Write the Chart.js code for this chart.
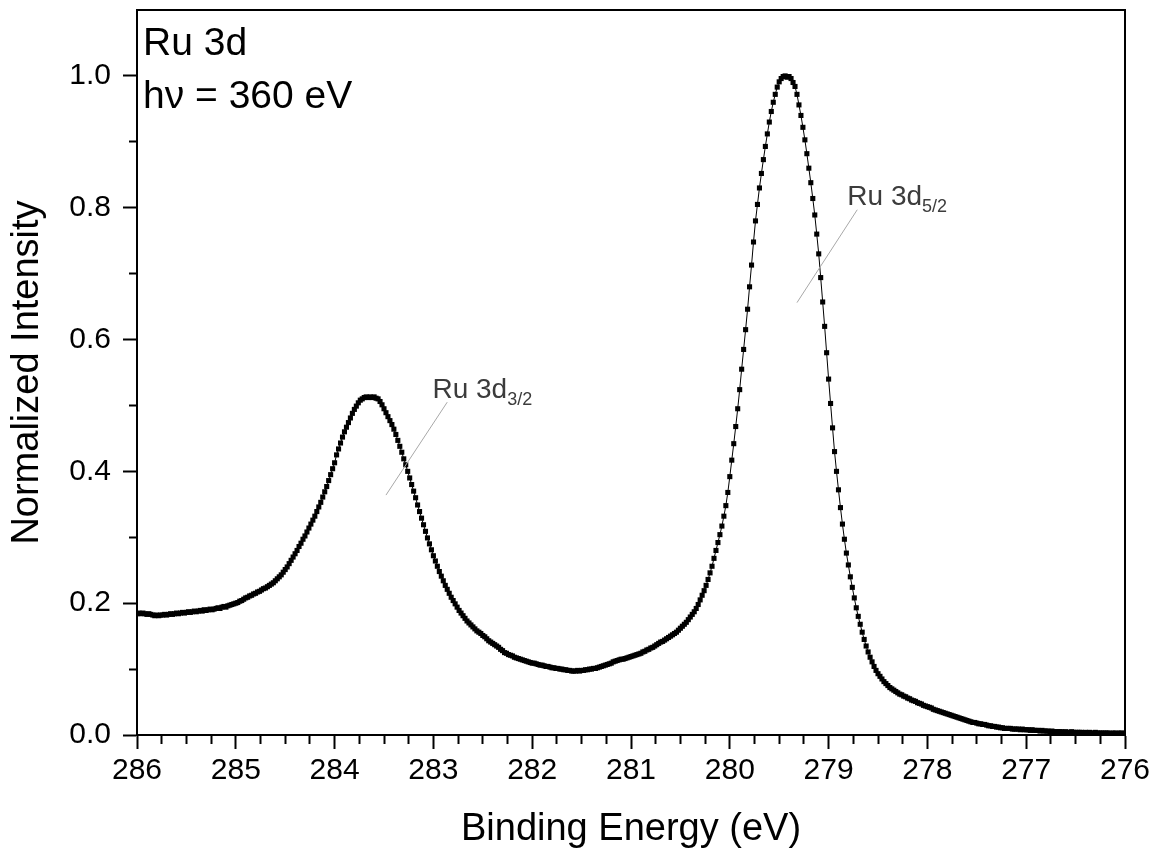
<!DOCTYPE html>
<html>
<head>
<meta charset="utf-8">
<script src="https://cdn.jsdelivr.net/npm/chart.js@4.4.0/dist/chart.umd.min.js"></script>
<style>
  html, body { margin: 0; padding: 0; background: #fff; }
  #wrap { width: 1158px; height: 855px; }
</style>
</head>
<body>
<div id="wrap"><canvas id="chart"></canvas></div>
<script>
'use strict'
const FONT = '"Liberation Sans", Arial, sans-serif'

// binding energy (eV), 0.02 eV steps, rows of 10
const energy = [
  286.00, 285.98, 285.96, 285.94, 285.92, 285.90, 285.88, 285.86, 285.84, 285.82,
  285.80, 285.78, 285.76, 285.74, 285.72, 285.70, 285.68, 285.66, 285.64, 285.62,
  285.60, 285.58, 285.56, 285.54, 285.52, 285.50, 285.48, 285.46, 285.44, 285.42,
  285.40, 285.38, 285.36, 285.34, 285.32, 285.30, 285.28, 285.26, 285.24, 285.22,
  285.20, 285.18, 285.16, 285.14, 285.12, 285.10, 285.08, 285.06, 285.04, 285.02,
  285.00, 284.98, 284.96, 284.94, 284.92, 284.90, 284.88, 284.86, 284.84, 284.82,
  284.80, 284.78, 284.76, 284.74, 284.72, 284.70, 284.68, 284.66, 284.64, 284.62,
  284.60, 284.58, 284.56, 284.54, 284.52, 284.50, 284.48, 284.46, 284.44, 284.42,
  284.40, 284.38, 284.36, 284.34, 284.32, 284.30, 284.28, 284.26, 284.24, 284.22,
  284.20, 284.18, 284.16, 284.14, 284.12, 284.10, 284.08, 284.06, 284.04, 284.02,
  284.00, 283.98, 283.96, 283.94, 283.92, 283.90, 283.88, 283.86, 283.84, 283.82,
  283.80, 283.78, 283.76, 283.74, 283.72, 283.70, 283.68, 283.66, 283.64, 283.62,
  283.60, 283.58, 283.56, 283.54, 283.52, 283.50, 283.48, 283.46, 283.44, 283.42,
  283.40, 283.38, 283.36, 283.34, 283.32, 283.30, 283.28, 283.26, 283.24, 283.22,
  283.20, 283.18, 283.16, 283.14, 283.12, 283.10, 283.08, 283.06, 283.04, 283.02,
  283.00, 282.98, 282.96, 282.94, 282.92, 282.90, 282.88, 282.86, 282.84, 282.82,
  282.80, 282.78, 282.76, 282.74, 282.72, 282.70, 282.68, 282.66, 282.64, 282.62,
  282.60, 282.58, 282.56, 282.54, 282.52, 282.50, 282.48, 282.46, 282.44, 282.42,
  282.40, 282.38, 282.36, 282.34, 282.32, 282.30, 282.28, 282.26, 282.24, 282.22,
  282.20, 282.18, 282.16, 282.14, 282.12, 282.10, 282.08, 282.06, 282.04, 282.02,
  282.00, 281.98, 281.96, 281.94, 281.92, 281.90, 281.88, 281.86, 281.84, 281.82,
  281.80, 281.78, 281.76, 281.74, 281.72, 281.70, 281.68, 281.66, 281.64, 281.62,
  281.60, 281.58, 281.56, 281.54, 281.52, 281.50, 281.48, 281.46, 281.44, 281.42,
  281.40, 281.38, 281.36, 281.34, 281.32, 281.30, 281.28, 281.26, 281.24, 281.22,
  281.20, 281.18, 281.16, 281.14, 281.12, 281.10, 281.08, 281.06, 281.04, 281.02,
  281.00, 280.98, 280.96, 280.94, 280.92, 280.90, 280.88, 280.86, 280.84, 280.82,
  280.80, 280.78, 280.76, 280.74, 280.72, 280.70, 280.68, 280.66, 280.64, 280.62,
  280.60, 280.58, 280.56, 280.54, 280.52, 280.50, 280.48, 280.46, 280.44, 280.42,
  280.40, 280.38, 280.36, 280.34, 280.32, 280.30, 280.28, 280.26, 280.24, 280.22,
  280.20, 280.18, 280.16, 280.14, 280.12, 280.10, 280.08, 280.06, 280.04, 280.02,
  280.00, 279.98, 279.96, 279.94, 279.92, 279.90, 279.88, 279.86, 279.84, 279.82,
  279.80, 279.78, 279.76, 279.74, 279.72, 279.70, 279.68, 279.66, 279.64, 279.62,
  279.60, 279.58, 279.56, 279.54, 279.52, 279.50, 279.48, 279.46, 279.44, 279.42,
  279.40, 279.38, 279.36, 279.34, 279.32, 279.30, 279.28, 279.26, 279.24, 279.22,
  279.20, 279.18, 279.16, 279.14, 279.12, 279.10, 279.08, 279.06, 279.04, 279.02,
  279.00, 278.98, 278.96, 278.94, 278.92, 278.90, 278.88, 278.86, 278.84, 278.82,
  278.80, 278.78, 278.76, 278.74, 278.72, 278.70, 278.68, 278.66, 278.64, 278.62,
  278.60, 278.58, 278.56, 278.54, 278.52, 278.50, 278.48, 278.46, 278.44, 278.42,
  278.40, 278.38, 278.36, 278.34, 278.32, 278.30, 278.28, 278.26, 278.24, 278.22,
  278.20, 278.18, 278.16, 278.14, 278.12, 278.10, 278.08, 278.06, 278.04, 278.02,
  278.00, 277.98, 277.96, 277.94, 277.92, 277.90, 277.88, 277.86, 277.84, 277.82,
  277.80, 277.78, 277.76, 277.74, 277.72, 277.70, 277.68, 277.66, 277.64, 277.62,
  277.60, 277.58, 277.56, 277.54, 277.52, 277.50, 277.48, 277.46, 277.44, 277.42,
  277.40, 277.38, 277.36, 277.34, 277.32, 277.30, 277.28, 277.26, 277.24, 277.22,
  277.20, 277.18, 277.16, 277.14, 277.12, 277.10, 277.08, 277.06, 277.04, 277.02,
  277.00, 276.98, 276.96, 276.94, 276.92, 276.90, 276.88, 276.86, 276.84, 276.82,
  276.80, 276.78, 276.76, 276.74, 276.72, 276.70, 276.68, 276.66, 276.64, 276.62,
  276.60, 276.58, 276.56, 276.54, 276.52, 276.50, 276.48, 276.46, 276.44, 276.42,
  276.40, 276.38, 276.36, 276.34, 276.32, 276.30, 276.28, 276.26, 276.24, 276.22,
  276.20, 276.18, 276.16, 276.14, 276.12, 276.10, 276.08, 276.06, 276.04, 276.02,
  276.00,
]

// normalized intensity, same rows as energy
const intensity = [
  0.184, 0.185, 0.184, 0.185, 0.184, 0.183, 0.184, 0.183, 0.182, 0.181,
  0.182, 0.181, 0.182, 0.182, 0.183, 0.182, 0.183, 0.184, 0.183, 0.184,
  0.185, 0.184, 0.185, 0.186, 0.185, 0.186, 0.187, 0.186, 0.187, 0.188,
  0.187, 0.188, 0.189, 0.188, 0.190, 0.189, 0.190, 0.191, 0.190, 0.191,
  0.192, 0.193, 0.192, 0.194, 0.195, 0.194, 0.196, 0.197, 0.198, 0.199,
  0.200, 0.201, 0.203, 0.204, 0.206, 0.208, 0.209, 0.211, 0.212, 0.214,
  0.215, 0.217, 0.218, 0.220, 0.222, 0.223, 0.225, 0.227, 0.229, 0.231,
  0.234, 0.237, 0.240, 0.243, 0.247, 0.251, 0.255, 0.260, 0.265, 0.270,
  0.275, 0.280, 0.286, 0.291, 0.297, 0.302, 0.308, 0.314, 0.320, 0.326,
  0.332, 0.339, 0.346, 0.353, 0.361, 0.369, 0.377, 0.386, 0.395, 0.404,
  0.413, 0.425, 0.434, 0.443, 0.452, 0.460, 0.467, 0.474, 0.481, 0.488,
  0.494, 0.499, 0.504, 0.508, 0.510, 0.512, 0.513, 0.512, 0.513, 0.512,
  0.513, 0.511, 0.510, 0.506, 0.501, 0.495, 0.489, 0.483, 0.477, 0.471,
  0.464, 0.456, 0.447, 0.438, 0.429, 0.419, 0.410, 0.400, 0.390, 0.380,
  0.370, 0.360, 0.349, 0.339, 0.329, 0.319, 0.309, 0.299, 0.290, 0.281,
  0.272, 0.264, 0.256, 0.248, 0.241, 0.234, 0.227, 0.221, 0.215, 0.209,
  0.204, 0.199, 0.194, 0.189, 0.185, 0.181, 0.177, 0.173, 0.170, 0.167,
  0.164, 0.161, 0.158, 0.156, 0.154, 0.151, 0.149, 0.146, 0.143, 0.141,
  0.139, 0.137, 0.135, 0.133, 0.130, 0.128, 0.125, 0.124, 0.122, 0.121,
  0.120, 0.118, 0.117, 0.116, 0.115, 0.114, 0.113, 0.112, 0.111, 0.110,
  0.109, 0.109, 0.108, 0.107, 0.106, 0.106, 0.105, 0.104, 0.104, 0.103,
  0.102, 0.102, 0.101, 0.101, 0.100, 0.100, 0.099, 0.099, 0.098, 0.098,
  0.097, 0.097, 0.097, 0.098, 0.097, 0.098, 0.098, 0.099, 0.099, 0.100,
  0.100, 0.101, 0.101, 0.102, 0.103, 0.104, 0.105, 0.106, 0.107, 0.108,
  0.109, 0.111, 0.112, 0.113, 0.114, 0.115, 0.115, 0.116, 0.117, 0.118,
  0.119, 0.120, 0.121, 0.122, 0.123, 0.124, 0.126, 0.127, 0.129, 0.130,
  0.132, 0.133, 0.135, 0.137, 0.139, 0.141, 0.142, 0.144, 0.146, 0.148,
  0.150, 0.152, 0.154, 0.156, 0.159, 0.162, 0.165, 0.168, 0.171, 0.175,
  0.179, 0.183, 0.187, 0.192, 0.198, 0.205, 0.212, 0.219, 0.227, 0.236,
  0.246, 0.256, 0.268, 0.280, 0.292, 0.304, 0.317, 0.332, 0.348, 0.368,
  0.392, 0.417, 0.442, 0.468, 0.495, 0.524, 0.555, 0.585, 0.615, 0.646,
  0.680, 0.713, 0.748, 0.780, 0.805, 0.830, 0.852, 0.873, 0.893, 0.912,
  0.930, 0.946, 0.960, 0.972, 0.983, 0.991, 0.996, 0.999, 1.000, 0.998,
  0.999, 0.996, 0.990, 0.984, 0.972, 0.956, 0.940, 0.922, 0.903, 0.882,
  0.860, 0.838, 0.814, 0.789, 0.760, 0.730, 0.694, 0.657, 0.620, 0.580,
  0.540, 0.503, 0.466, 0.430, 0.400, 0.372, 0.345, 0.320, 0.297, 0.276,
  0.258, 0.240, 0.224, 0.208, 0.193, 0.180, 0.168, 0.156, 0.145, 0.135,
  0.126, 0.118, 0.111, 0.104, 0.098, 0.093, 0.089, 0.085, 0.081, 0.078,
  0.075, 0.072, 0.070, 0.068, 0.066, 0.064, 0.062, 0.061, 0.059, 0.058,
  0.056, 0.055, 0.053, 0.052, 0.051, 0.049, 0.048, 0.047, 0.045, 0.044,
  0.043, 0.042, 0.041, 0.039, 0.038, 0.037, 0.036, 0.035, 0.034, 0.033,
  0.032, 0.031, 0.030, 0.029, 0.028, 0.027, 0.026, 0.025, 0.024, 0.023,
  0.022, 0.021, 0.020, 0.019, 0.019, 0.018, 0.017, 0.017, 0.016, 0.016,
  0.015, 0.014, 0.014, 0.013, 0.013, 0.012, 0.012, 0.011, 0.011, 0.010,
  0.010, 0.010, 0.010, 0.009, 0.009, 0.009, 0.009, 0.008, 0.009, 0.008,
  0.008, 0.008, 0.007, 0.008, 0.007, 0.007, 0.007, 0.006, 0.007, 0.006,
  0.006, 0.006, 0.005, 0.006, 0.005, 0.005, 0.005, 0.005, 0.005, 0.004,
  0.005, 0.004, 0.004, 0.005, 0.004, 0.004, 0.004, 0.004, 0.004, 0.003,
  0.004, 0.003, 0.004, 0.003, 0.003, 0.004, 0.003, 0.003, 0.003, 0.003,
  0.003, 0.003, 0.003, 0.002, 0.003, 0.003, 0.002, 0.003, 0.003, 0.002,
  0.003,
]

const xRange = [276, 286]
const yRange = [0, 1.1]
const xTitle = 'Binding Energy (eV)'
const yTitle = 'Normalized Intensity'
const infoLines = ['Ru 3d', 'h\u03bd = 360 eV']

// peak labels, anchored in data units
const peakLabels = [
  { text: 'Ru 3d', sub: '3/2', at: [283.01, 0.511], from: [283.48, 0.364], to: [282.86, 0.505] },
  { text: 'Ru 3d', sub: '5/2', at: [278.81, 0.804], from: [279.32, 0.656], to: [278.71, 0.797] },
]

const isMajorX = (v) => Math.abs(v - Math.round(v)) < 1e-6
const isMajorY = (v) => Math.round(v * 10) % 2 === 0 && v < 1.05

// top + right frame, text labels
const decorations = {
  id: 'decorations',
  afterDatasetsDraw(chart) {
    const { ctx, chartArea: a, scales } = chart
    ctx.save()
    ctx.strokeStyle = '#000'
    ctx.lineWidth = 2
    ctx.beginPath()
    ctx.moveTo(a.left - 1, a.top)
    ctx.lineTo(a.right, a.top)
    ctx.lineTo(a.right, a.bottom + 1)
    ctx.stroke()

    ctx.fillStyle = '#000'
    ctx.font = '39px ' + FONT
    ctx.textAlign = 'left'
    ctx.textBaseline = 'alphabetic'
    infoLines.forEach((t, i) => ctx.fillText(t, a.left + 6, a.top + 45 + i * 53))

    peakLabels.forEach((p) => {
      ctx.strokeStyle = '#a8a8a8'
      ctx.lineWidth = 1
      ctx.beginPath()
      ctx.moveTo(scales.x.getPixelForValue(p.from[0]), scales.y.getPixelForValue(p.from[1]))
      ctx.lineTo(scales.x.getPixelForValue(p.to[0]), scales.y.getPixelForValue(p.to[1]))
      ctx.stroke()
      const px = scales.x.getPixelForValue(p.at[0])
      const py = scales.y.getPixelForValue(p.at[1])
      ctx.fillStyle = '#3c3c3c'
      ctx.font = '28px ' + FONT
      ctx.fillText(p.text, px, py)
      const w = ctx.measureText(p.text).width
      ctx.font = '18px ' + FONT
      ctx.fillText(p.sub, px + w, py + 7)
    })
    ctx.restore()
  },
}

const chart = new Chart(document.getElementById('chart'), {
  type: 'scatter',
  data: {
    datasets: [
      {
        data: energy.map((e, i) => ({ x: e, y: intensity[i] })),
        showLine: true,
        borderColor: '#000',
        borderWidth: 1,
        pointStyle: 'rect',
        pointRadius: 3.6,
        pointBackgroundColor: '#000',
        pointBorderWidth: 0,
        pointHoverRadius: 3.6,
      },
    ],
  },
  options: {
    responsive: true,
    maintainAspectRatio: false,
    animation: false,
    events: [],
    layout: { padding: { top: 10, right: 33, left: 0, bottom: 0 } },
    plugins: { legend: { display: false }, tooltip: { enabled: false } },
    scales: {
      x: {
        type: 'linear',
        reverse: true,
        min: xRange[0],
        max: xRange[1],
        afterFit(scale) {
          scale.height = 120
          scale.paddingLeft = 0
          scale.paddingRight = 0
        },
        border: { color: '#000', width: 2 },
        grid: {
          drawOnChartArea: false,
          tickLength: 14,
          tickWidth: 2,
          tickColor: '#000',
          tickBorderDash: (c) => (isMajorX(c.tick.value) ? [] : [8, 100]),
        },
        ticks: {
          stepSize: 0.25,
          autoSkip: false,
          maxRotation: 0,
          padding: 4,
          color: '#000',
          font: { family: FONT, size: 30 },
          callback: (v) => (isMajorX(v) ? String(Math.round(v)) : ''),
        },
        title: {
          display: true,
          text: xTitle,
          color: '#000',
          font: { family: FONT, size: 38 },
          padding: { top: 0, bottom: 3 },
        },
      },
      y: {
        min: yRange[0],
        max: yRange[1],
        afterFit(scale) {
          scale.width = 137
          scale.paddingTop = 0
          scale.paddingBottom = 0
        },
        border: { color: '#000', width: 2 },
        grid: {
          drawOnChartArea: false,
          tickLength: 14,
          tickWidth: 2,
          tickColor: (c) => (c.tick.value > 1.05 ? 'rgba(0,0,0,0)' : '#000'),
          tickBorderDash: (c) => (isMajorY(c.tick.value) ? [] : [0, 6, 8, 100]),
        },
        ticks: {
          stepSize: 0.1,
          autoSkip: false,
          padding: 12,
          color: '#000',
          font: { family: FONT, size: 30 },
          callback: (v) => (isMajorY(v) ? v.toFixed(1) : ''),
        },
        title: {
          display: true,
          text: yTitle,
          color: '#000',
          font: { family: FONT, size: 38 },
          padding: { top: 5, bottom: 0 },
        },
      },
    },
  },
  plugins: [decorations],
})
</script>
</body>
</html>
